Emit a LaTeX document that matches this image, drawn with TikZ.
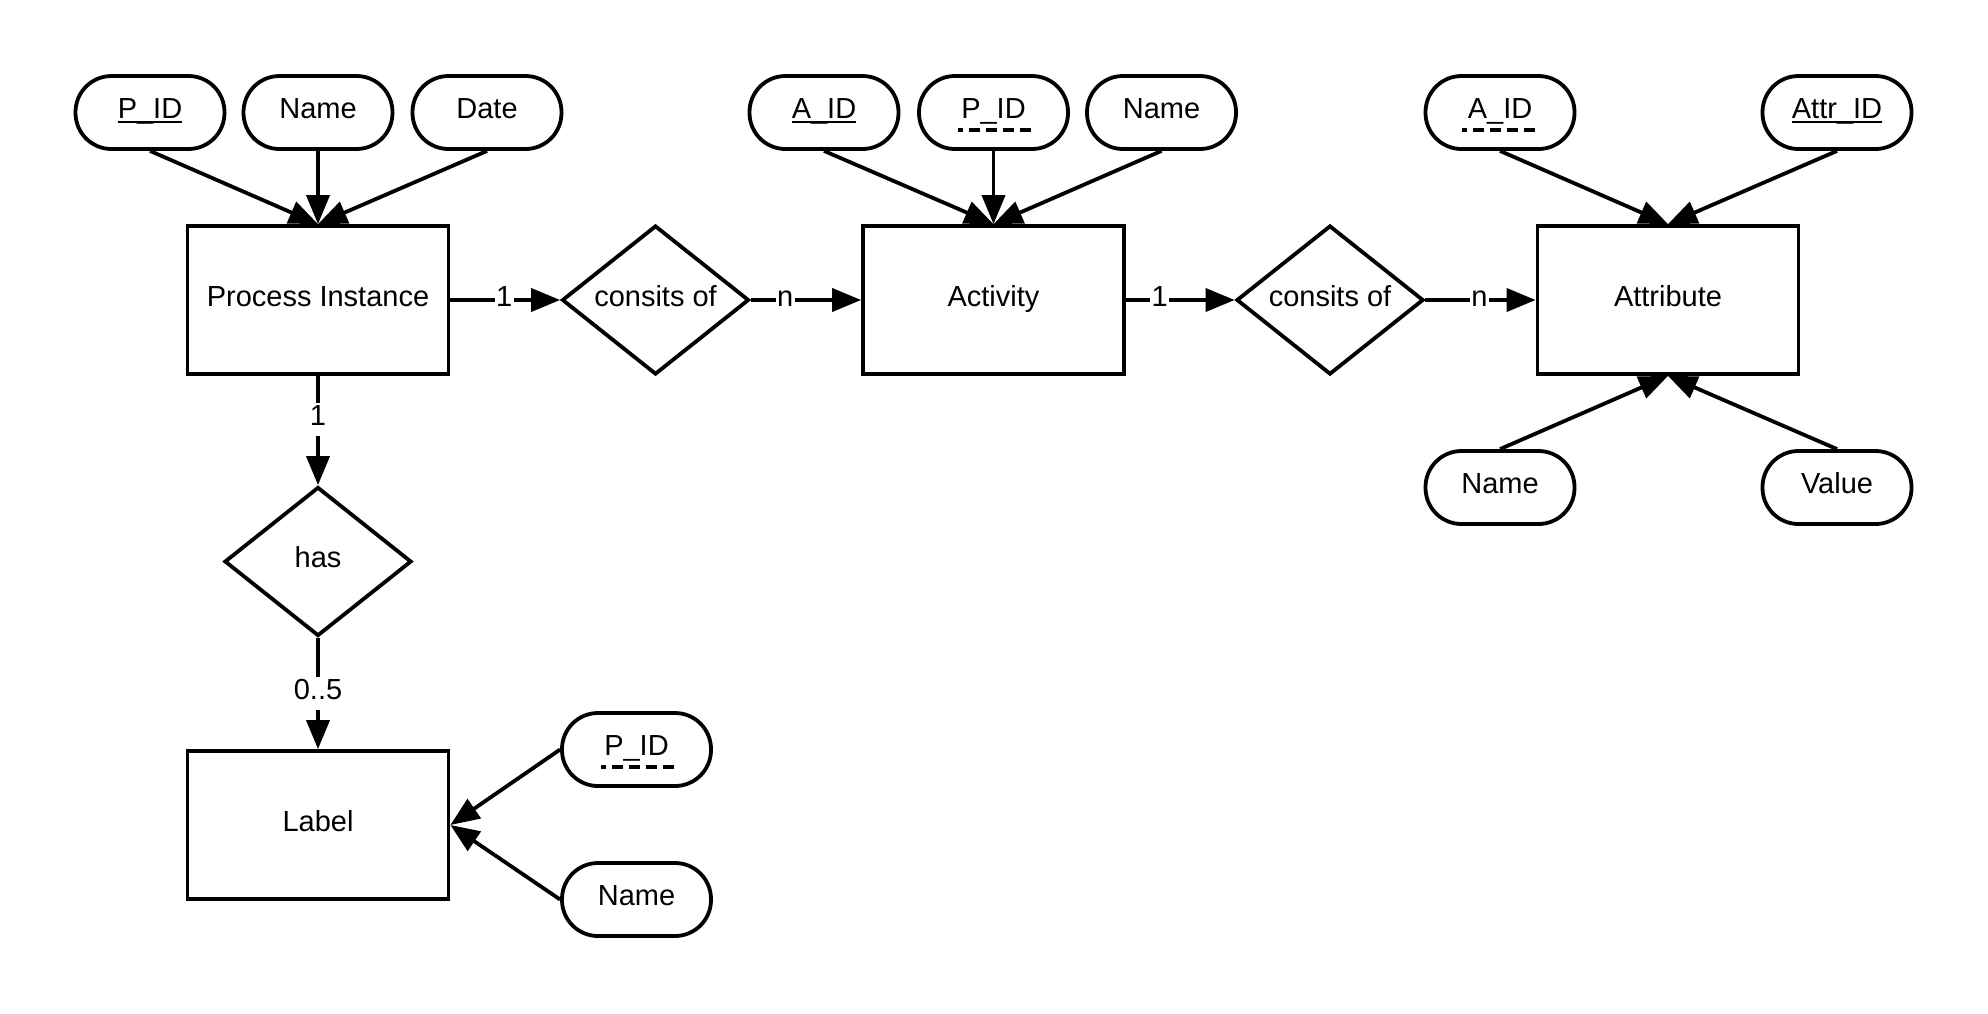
\documentclass[tikz,border=0pt]{standalone}
\usepackage{fontspec}
\setmainfont{Liberation Sans}
\usetikzlibrary{shapes.geometric,arrows.meta}

% solid key underline drawn as a rule under the text
\newcommand\keyul[1]{\setbox0\hbox{#1}\rlap{\vrule height -2pt depth 4pt width \wd0}\box0}

\begin{document}
\begin{tikzpicture}[x=1pt,y=-1pt,
  every node/.style={font=\fontsize{29}{35}\selectfont, text height=21pt, text depth=9pt},
  entity/.style={draw, rectangle, minimum width=261pt, minimum height=148pt, inner sep=0pt, line width=3.8pt},
  rel/.style={draw, diamond, aspect=1.25, minimum width=187pt, minimum height=149pt, inner sep=0pt, line width=3.8pt},
  attrib/.style={draw, rectangle, rounded corners=36pt, minimum width=149pt, minimum height=73pt, inner sep=0pt, line width=3.8pt},
  conn/.style={line width=3.8pt, -{Triangle[length=29pt,width=23pt]}},
  card/.style={fill=white, inner sep=1.5pt},
  fkul/.style={line width=4pt, dash pattern=on 11pt off 6pt, dash phase=6pt}
]
\useasboundingbox (0,0) rectangle (1988,1013);

% entities
\node[entity] (pi)   at (318,300)   {Process Instance};
\node[entity] (act)  at (993.5,300) {Activity};
\node[entity] (attr) at (1668,300)  {Attribute};
\node[entity] (lab)  at (318,825)   {Label};

% relationships
\node[rel] (rel1) at (655.5,300) {consits of};
\node[rel] (rel2) at (1330,300)  {consits of};
\node[rel] (has)  at (318,561.5) {has};

% attributes of Process Instance
\node[attrib] (pid)   at (150,112.5)   {\keyul{P\_ID}};
\node[attrib] (pname) at (318,112.5)   {Name};
\node[attrib] (pdate) at (487,112.5)   {Date};

% attributes of Activity
\node[attrib] (aid)   at (824,112.5)    {\keyul{A\_ID}};
\node[attrib] (apid)  at (993.5,112.5)  {P\_ID};
\node[attrib] (aname) at (1161.5,112.5) {Name};

% attributes of Attribute
\node[attrib] (taid)   at (1500,112.5) {A\_ID};
\node[attrib] (tid)    at (1837,112.5) {\keyul{Attr\_ID}};
\node[attrib] (tname)  at (1500,487.5) {Name};
\node[attrib] (tvalue) at (1837,487.5) {Value};

% attributes of Label
\node[attrib] (lpid)  at (636.5,749.5) {P\_ID};
\node[attrib] (lname) at (636.5,899.5) {Name};

% foreign key underlines
\draw[fkul] ([shift={(-36,17)}]apid.center) -- ++(75,0);
\draw[fkul] ([shift={(-38,17)}]taid.center) -- ++(75,0);
\draw[fkul] ([shift={(-36,17)}]lpid.center) -- ++(75,0);

% attribute connectors
\draw[conn] (pid.south)   -- (pi.north);
\draw[conn] (pname.south) -- (pi.north);
\draw[conn] (pdate.south) -- (pi.north);
\draw[conn] (aid.south)   -- (act.north);
\draw[conn] (apid.south)  -- (act.north);
\draw[conn] (aname.south) -- (act.north);
\draw[conn] (taid.south)  -- (attr.north);
\draw[conn] (tid.south)   -- (attr.north);
\draw[conn] (tname.north) -- (attr.south);
\draw[conn] (tvalue.north) -- (attr.south);
\draw[conn] (lpid.west)   -- (lab.east);
\draw[conn] (lname.west)  -- (lab.east);

% relationship connectors with cardinalities
\draw[conn] (pi.east)   -- node[card, pos=0.49] {1} (rel1.west);
\draw[conn] (rel1.east) -- node[card, pos=0.31] {n} (act.west);
\draw[conn] (act.east)  -- node[card, pos=0.31] {1} (rel2.west);
\draw[conn] (rel2.east) -- node[card, pos=0.49] {n} (attr.west);
\draw[conn] (pi.south)  -- node[card, pos=0.40] {1} (has.north);
\draw[conn] (has.south) -- node[card, pos=0.50] {0..5} (lab.north);
\end{tikzpicture}
\end{document}
